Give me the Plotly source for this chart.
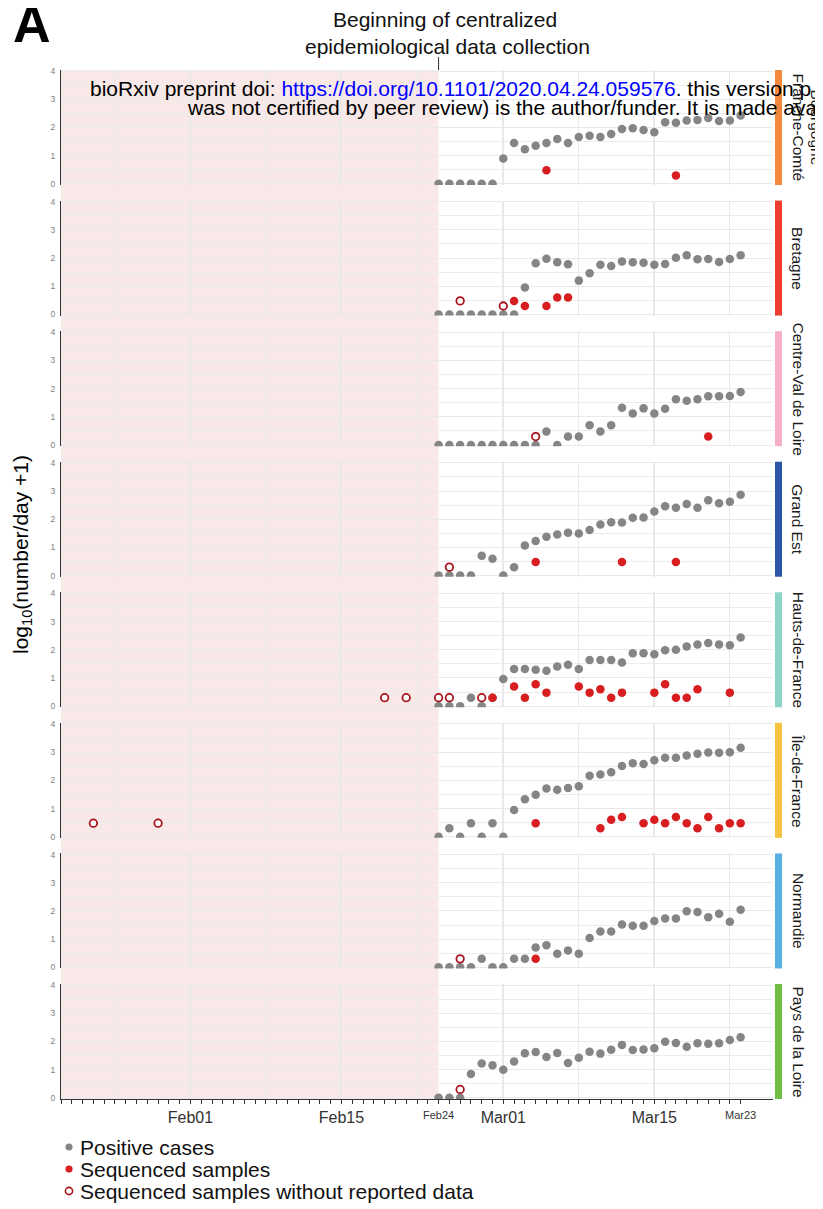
import plotly.graph_objects as go
import pandas as pd

# ---------------- data ----------------
regions = ["Bourgogne-Franche-Comté", "Bretagne", "Centre-Val de Loire", "Grand Est",
           "Hauts-de-France", "Île-de-France", "Normandie", "Pays de la Loire"]
region_colors = ["#f3873b", "#ef3e2f", "#f6afc5", "#2c55a5",
                 "#8dd3c7", "#f5c242", "#5aafe2", "#70be44"]

case_dates = [d.strftime("%Y-%m-%d") for d in pd.date_range("2020-02-24", "2020-03-23", freq="D")]

pos_bfc = [0, 0, 0, 0, 0, 0, 0.90, 1.45, 1.23, 1.35, 1.45, 1.59, 1.45, 1.66, 1.71, 1.66, 1.77,
           1.95, 1.97, 1.91, 1.83, 2.19, 2.17, 2.25, 2.27, 2.34, 2.23, 2.25, 2.43]
pos_bre = [0, 0, 0, 0, 0, 0, 0, 0, 0.96, 1.82, 1.98, 1.85, 1.78, 1.20, 1.46, 1.76, 1.72,
           1.88, 1.85, 1.83, 1.76, 1.79, 2.01, 2.10, 1.96, 1.97, 1.86, 1.97, 2.10]
pos_cvl = [0, 0, 0, 0, 0, 0, 0, 0, 0, 0, 0.48, 0, 0.30, 0.30, 0.70, 0.48, 0.70,
           1.32, 1.12, 1.30, 1.12, 1.29, 1.62, 1.57, 1.62, 1.73, 1.73, 1.74, 1.88]
pos_ges = [0, 0, 0, 0, 0.70, 0.60, 0, 0.30, 1.07, 1.23, 1.38, 1.46, 1.52, 1.49, 1.62, 1.81, 1.89,
           1.88, 2.05, 2.06, 2.27, 2.46, 2.41, 2.54, 2.41, 2.67, 2.57, 2.62, 2.87]
pos_hdf = [0, 0, 0, 0.30, 0, 0.30, 0.96, 1.32, 1.32, 1.29, 1.26, 1.41, 1.47, 1.32, 1.64, 1.64, 1.64,
           1.55, 1.88, 1.88, 1.84, 1.98, 2.00, 2.12, 2.19, 2.24, 2.19, 2.16, 2.44]
pos_idf = [0, 0.30, 0, 0.48, 0, 0.48, 0, 0.95, 1.33, 1.49, 1.71, 1.67, 1.73, 1.79, 2.16, 2.21, 2.29,
           2.51, 2.61, 2.58, 2.71, 2.80, 2.80, 2.88, 2.94, 2.99, 2.98, 3.00, 3.16]
pos_nor = [0, 0, 0, 0, 0.30, 0, 0, 0.30, 0.30, 0.70, 0.78, 0.48, 0.60, 0.48, 1.04, 1.27, 1.27,
           1.52, 1.47, 1.47, 1.64, 1.73, 1.73, 1.99, 1.96, 1.78, 1.90, 1.62, 2.04]
pos_pdl = [0, 0, 0, 0.85, 1.22, 1.16, 1.00, 1.29, 1.58, 1.63, 1.45, 1.59, 1.24, 1.42, 1.64, 1.57, 1.71,
           1.88, 1.70, 1.72, 1.76, 1.99, 1.95, 1.81, 1.94, 1.92, 1.94, 2.05, 2.15]

seq_bfc_dates = ["2020-03-05", "2020-03-17"]
seq_bfc_vals = [0.48, 0.30]
seq_bre_dates = ["2020-03-02", "2020-03-03", "2020-03-05", "2020-03-06", "2020-03-07"]
seq_bre_vals = [0.48, 0.30, 0.30, 0.60, 0.60]
seq_cvl_dates = ["2020-03-20"]
seq_cvl_vals = [0.30]
seq_ges_dates = ["2020-03-04", "2020-03-12", "2020-03-17"]
seq_ges_vals = [0.48, 0.48, 0.48]
seq_hdf_dates = ["2020-02-29", "2020-03-02", "2020-03-03", "2020-03-04", "2020-03-05", "2020-03-08",
                 "2020-03-09", "2020-03-10", "2020-03-11", "2020-03-12", "2020-03-15", "2020-03-16",
                 "2020-03-17", "2020-03-18", "2020-03-19", "2020-03-22"]
seq_hdf_vals = [0.30, 0.70, 0.30, 0.78, 0.48, 0.70, 0.48, 0.60, 0.30, 0.48, 0.48, 0.78,
                0.30, 0.30, 0.60, 0.48]
seq_idf_dates = ["2020-03-04", "2020-03-10", "2020-03-11", "2020-03-12", "2020-03-14", "2020-03-15",
                 "2020-03-16", "2020-03-17", "2020-03-18", "2020-03-19", "2020-03-20", "2020-03-21",
                 "2020-03-22", "2020-03-23"]
seq_idf_vals = [0.48, 0.30, 0.60, 0.70, 0.48, 0.60, 0.48, 0.70, 0.48, 0.30, 0.70, 0.30, 0.48, 0.48]
seq_nor_dates = ["2020-03-04"]
seq_nor_vals = [0.30]
seq_pdl_dates = []
seq_pdl_vals = []

nrep_bfc_dates, nrep_bfc_vals = [], []
nrep_bre_dates = ["2020-02-26", "2020-03-01"]
nrep_bre_vals = [0.48, 0.30]
nrep_cvl_dates = ["2020-03-04"]
nrep_cvl_vals = [0.30]
nrep_ges_dates = ["2020-02-25"]
nrep_ges_vals = [0.30]
nrep_hdf_dates = ["2020-02-19", "2020-02-21", "2020-02-24", "2020-02-25", "2020-02-28"]
nrep_hdf_vals = [0.30, 0.30, 0.30, 0.30, 0.30]
nrep_idf_dates = ["2020-01-23", "2020-01-29"]
nrep_idf_vals = [0.48, 0.48]
nrep_nor_dates = ["2020-02-26"]
nrep_nor_vals = [0.30]
nrep_pdl_dates = ["2020-02-26"]
nrep_pdl_vals = [0.30]

x_label_dates = ["2020-02-01", "2020-02-15", "2020-03-01", "2020-03-15"]
x_label_text = ["Feb01", "Feb15", "Mar01", "Mar15"]
x_small_label_dates = ["2020-02-24", "2020-03-23"]
x_small_label_text = ["Feb24", "Mar23"]
x_minor_grid = ["2020-01-25", "2020-02-08", "2020-02-22", "2020-03-08", "2020-03-22"]
day_ticks = [d.strftime("%Y-%m-%d") for d in pd.date_range("2020-01-20", "2020-03-23", freq="D")]
y_tick_vals = [0, 1, 2, 3, 4]
y_tick_text = ["0", "1", "2", "3", "4"]

legend_labels = ["Positive cases", "Sequenced samples", "Sequenced samples without reported data"]

positives = [pos_bfc, pos_bre, pos_cvl, pos_ges, pos_hdf, pos_idf, pos_nor, pos_pdl]
seq_dates = [seq_bfc_dates, seq_bre_dates, seq_cvl_dates, seq_ges_dates,
             seq_hdf_dates, seq_idf_dates, seq_nor_dates, seq_pdl_dates]
seq_vals = [seq_bfc_vals, seq_bre_vals, seq_cvl_vals, seq_ges_vals,
            seq_hdf_vals, seq_idf_vals, seq_nor_vals, seq_pdl_vals]
nrep_dates = [nrep_bfc_dates, nrep_bre_dates, nrep_cvl_dates, nrep_ges_dates,
              nrep_hdf_dates, nrep_idf_dates, nrep_nor_dates, nrep_pdl_dates]
nrep_vals = [nrep_bfc_vals, nrep_bre_vals, nrep_cvl_vals, nrep_ges_vals,
             nrep_hdf_vals, nrep_idf_vals, nrep_nor_vals, nrep_pdl_vals]

# ---------------- geometry / style ----------------
PAGE_W, PAGE_H = 823, 1209
OFF = 8                      # page body margin
W, H = PAGE_W - OFF, PAGE_H - OFF
ML, MT = 61 - OFF, 70 - OFF
MR, MB = 50, 110
PW, PH = W - ML - MR, H - MT - MB
PANEL_H = 115
PITCH = (PH - PANEL_H) / 7.0

X_START, X_END = "2020-01-20", "2020-03-26"
BOUNDARY = "2020-02-24"

FONT = "Liberation Sans, Arial, Helvetica, sans-serif"
GREY = "#858585"
RED = "#d91e22"
DARKRED = "#a8141b"
GRID = "#e9e9e9"
PINK = "#f8e8e8"


def px_x(p):
    """page pixel -> paper x"""
    return (p - OFF - ML) / PW


def px_y(p):
    """page pixel -> paper y"""
    return (OFF + H - MB - p) / PH


t0 = pd.Timestamp(X_START)
t1 = pd.Timestamp(X_END)
boundary_frac = (pd.Timestamp(BOUNDARY) - t0) / (t1 - t0)

fig = go.Figure()
shapes = []
annotations = []
layout = {}

for k, region in enumerate(regions):
    n = k + 1
    xa = "x" if n == 1 else f"x{n}"
    ya = "y" if n == 1 else f"y{n}"
    top_px = 70 + k * PITCH
    bot_px = top_px + PANEL_H
    dom = [px_y(bot_px), px_y(top_px)]

    fig.add_trace(go.Scatter(x=case_dates, y=positives[k], mode="markers", xaxis=xa, yaxis=ya,
                             marker=dict(color=GREY, size=8.5), hoverinfo="skip", showlegend=False))
    if seq_dates[k]:
        fig.add_trace(go.Scatter(x=seq_dates[k], y=seq_vals[k], mode="markers", xaxis=xa, yaxis=ya,
                                 marker=dict(color=RED, size=8.5), hoverinfo="skip", showlegend=False))
    if nrep_dates[k]:
        fig.add_trace(go.Scatter(x=nrep_dates[k], y=nrep_vals[k], mode="markers", xaxis=xa, yaxis=ya,
                                 marker=dict(color="white", size=7.5, line=dict(color=DARKRED, width=1.8)),
                                 hoverinfo="skip", showlegend=False))

    last = (n == len(regions))
    layout[f"xaxis{n}"] = dict(
        domain=[0, 1], anchor=ya, range=[X_START, X_END], type="date",
        tickmode="array", tickvals=x_label_dates, ticktext=x_label_text,
        showticklabels=last, ticks="outside" if last else "", ticklen=4, tickwidth=1, tickcolor="#333333",
        tickfont=dict(size=16, color="#333333", family=FONT),
        showgrid=True, gridcolor=GRID, gridwidth=1.8,
        minor=dict(tickvals=x_minor_grid, showgrid=True, gridcolor=GRID, gridwidth=1.0, ticks=""),
        showline=last, linecolor="#333333", linewidth=1, zeroline=False, fixedrange=True,
    )
    layout[f"yaxis{n}"] = dict(
        domain=dom, anchor=xa, range=[-0.04, 4.04],
        tickmode="array", tickvals=y_tick_vals, ticktext=y_tick_text,
        ticks="outside", ticklen=3, tickcolor="rgba(0,0,0,0)",
        tickfont=dict(size=8.5, color="#808080", family=FONT),
        showgrid=True, gridcolor=GRID, gridwidth=1.1,
        minor=dict(tickvals=[0.5, 1.5, 2.5, 3.5], showgrid=True, gridcolor="#ececec", gridwidth=0.9, ticks=""),
        showline=True, linecolor="#333333", linewidth=1, zeroline=False, fixedrange=True,
    )

    # strip
    shapes.append(dict(type="rect", xref="paper", yref="paper", x0=px_x(775), x1=px_x(782),
                       y0=dom[0], y1=dom[1], fillcolor=region_colors[k], line=dict(width=0), layer="above"))
    yc = (dom[0] + dom[1]) / 2
    strip_font = dict(size=15.5, color="#1a1a1a", family=FONT)
    if region == "Bourgogne-Franche-Comté":
        annotations.append(dict(text="Franche-Comté", x=px_x(798), y=yc, xref="paper", yref="paper",
                                textangle=90, showarrow=False, xanchor="center", yanchor="middle",
                                font=strip_font))
        annotations.append(dict(text="Bourgogne", x=px_x(816), y=yc, xref="paper", yref="paper",
                                textangle=90, showarrow=False, xanchor="center", yanchor="middle",
                                font=strip_font))
    else:
        annotations.append(dict(text=region, x=px_x(798), y=yc, xref="paper", yref="paper",
                                textangle=90, showarrow=False, xanchor="center", yanchor="middle",
                                font=strip_font))

# daily tick marks on an overlaying axis
layout["xaxis9"] = dict(overlaying="x8", anchor="y8", side="bottom", range=[X_START, X_END], type="date",
                        tickmode="array", tickvals=day_ticks, ticks="outside", ticklen=4, tickwidth=1,
                        tickcolor="#333333", showticklabels=False, showgrid=False, showline=False,
                        zeroline=False, fixedrange=True)
fig.add_trace(go.Scatter(x=[], y=[], xaxis="x9", yaxis="y8", mode="markers", hoverinfo="skip", showlegend=False))

# pink period before centralized collection
shapes.insert(0, dict(type="rect", xref="paper", yref="paper", x0=0, x1=boundary_frac, y0=0, y1=1,
                      fillcolor=PINK, line=dict(width=0), layer="below"))
# marker line to title
shapes.append(dict(type="line", xref="paper", yref="paper", x0=boundary_frac, x1=boundary_frac,
                   y0=px_y(70), y1=px_y(57), line=dict(color="#333333", width=1)))

# small tick labels
for d, t in zip(x_small_label_dates, x_small_label_text):
    annotations.append(dict(text=t, x=d, xref="x8", y=px_y(1115), yref="paper", showarrow=False,
                            xanchor="center", yanchor="middle",
                            font=dict(size=11, color="#333333", family=FONT)))

# titles / texts
annotations += [
    dict(text="A", x=px_x(32), y=px_y(24), xref="paper", yref="paper", showarrow=False,
         xanchor="center", yanchor="middle", font=dict(size=52, color="black", family=FONT, weight="bold")),
    dict(text="Beginning of centralized", x=px_x(445), y=px_y(20), xref="paper", yref="paper",
         showarrow=False, xanchor="center", yanchor="middle", font=dict(size=21, color="#111111", family=FONT)),
    dict(text="epidemiological data collection", x=px_x(447), y=px_y(46), xref="paper", yref="paper",
         showarrow=False, xanchor="center", yanchor="middle", font=dict(size=21, color="#111111", family=FONT)),
    dict(text='bioRxiv preprint doi: <span style="color:#0000ff">https://doi.org/10.1101/2020.04.24.059576</span>. this version p',
         x=px_x(88), y=px_y(88), xref="paper", yref="paper", showarrow=False,
         xanchor="left", yanchor="middle", font=dict(size=21, color="#000000", family=FONT)),
    dict(text="was not certified by peer review) is the author/funder. It is made ava",
         x=px_x(185), y=px_y(107), xref="paper", yref="paper", showarrow=False,
         xanchor="left", yanchor="middle", font=dict(size=21, color="#000000", family=FONT)),
    dict(text="log<sub>10</sub>(number/day +1)", x=px_x(22), y=px_y(555), xref="paper", yref="paper",
         showarrow=False, textangle=-90, xanchor="center", yanchor="middle",
         font=dict(size=21, color="#000000", family=FONT)),
]

# manual legend
leg_y = [1147, 1169, 1191]
leg_fill = [GREY, RED, "white"]
leg_line = [GREY, RED, DARKRED]
leg_lw = [0, 0, 1.6]
for lab, yy, fc, lc, lw in zip(legend_labels, leg_y, leg_fill, leg_line, leg_lw):
    shapes.append(dict(type="circle", xref="paper", yref="paper", xsizemode="pixel", ysizemode="pixel",
                       xanchor=px_x(69), yanchor=px_y(yy), x0=-3.6, x1=3.6, y0=-3.6, y1=3.6,
                       fillcolor=fc, line=dict(color=lc, width=lw), layer="above"))
    annotations.append(dict(text=lab, x=px_x(78), y=px_y(yy), xref="paper", yref="paper", showarrow=False,
                            xanchor="left", yanchor="middle", font=dict(size=21, color="#111111", family=FONT)))

layout["xaxis"] = layout.pop("xaxis1")
layout["yaxis"] = layout.pop("yaxis1")

fig.update_layout(
    width=W, height=H, margin=dict(l=ML, r=MR, t=MT, b=MB, pad=0),
    paper_bgcolor="white", plot_bgcolor="rgba(0,0,0,0)",
    font=dict(family=FONT, color="#111111"),
    showlegend=False, shapes=shapes, annotations=annotations, **layout,
)

fig.write_html("out.html")
